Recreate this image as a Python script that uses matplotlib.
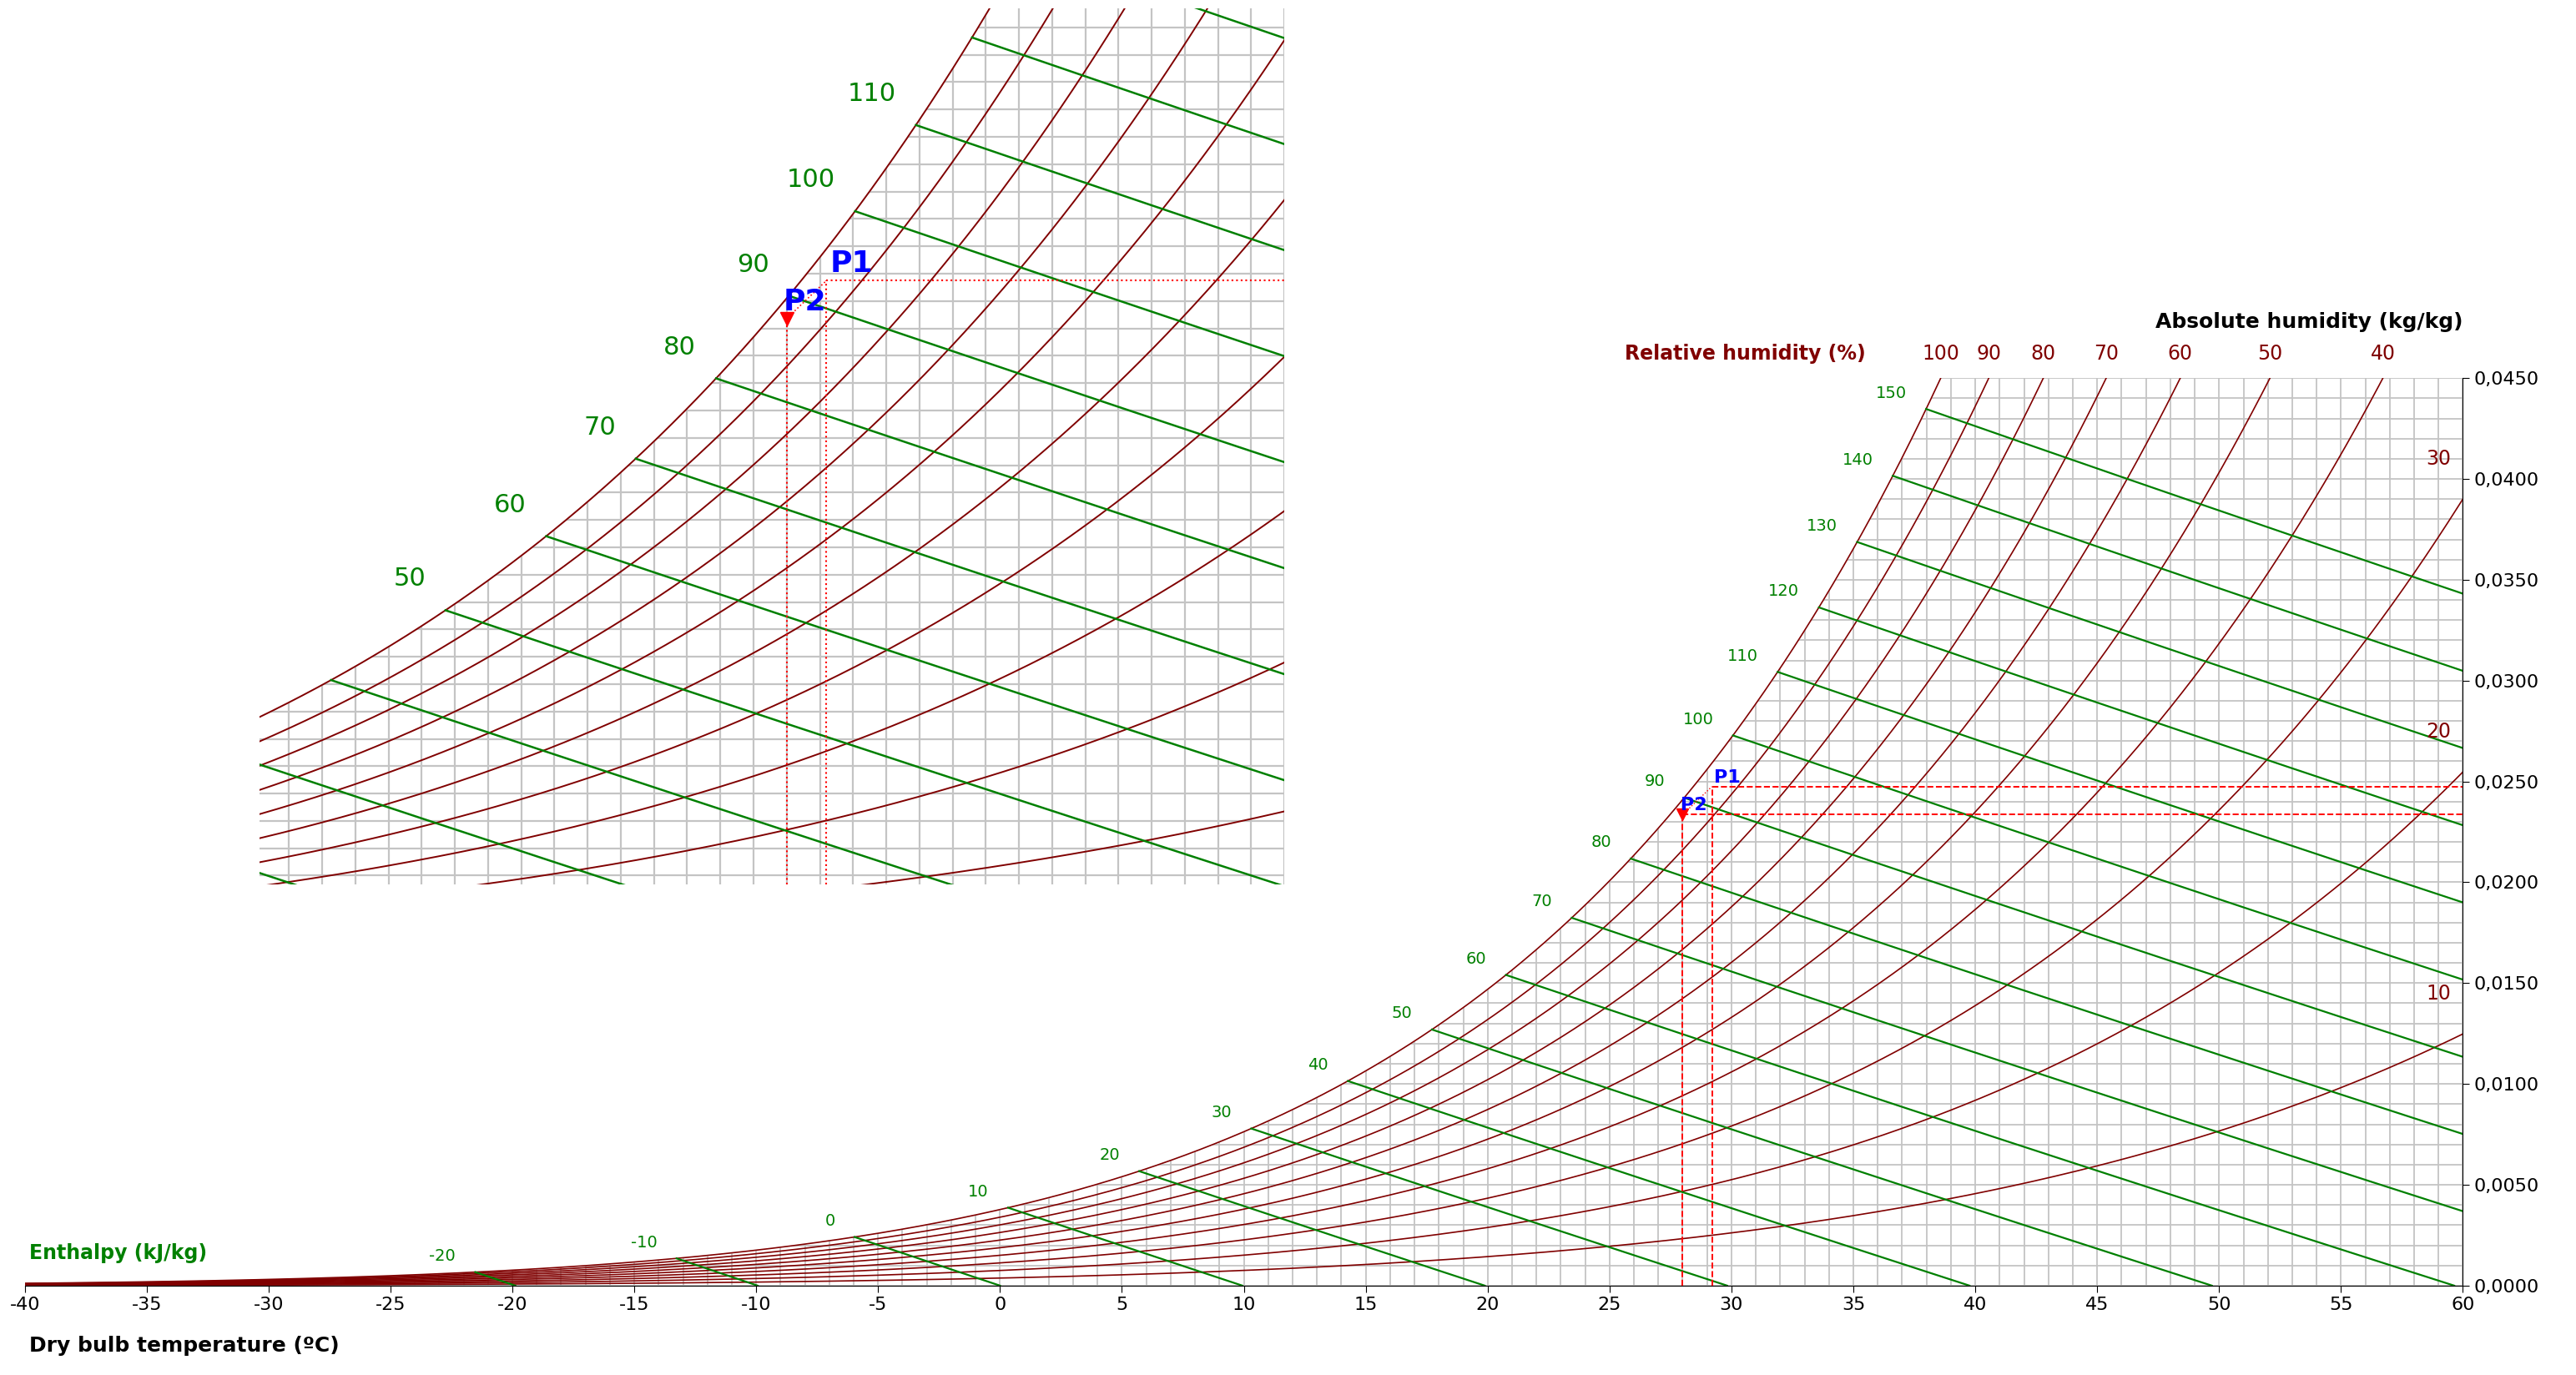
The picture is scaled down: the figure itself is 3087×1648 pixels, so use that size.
import numpy as np
import matplotlib
matplotlib.use("Agg")
import matplotlib.pyplot as plt

P_ATM = 101.325
rh_levels = [10, 20, 30, 40, 50, 60, 70, 80, 90, 100]
h_levels = list(range(-20, 151, 10))
inset_h_labels = [50, 60, 70, 80, 90, 100, 110]
p1 = (29.2, 0.02475)
p2 = (28.0, 0.02336)
x_ticks = list(range(-40, 61, 5))
y_ticks = [0.0, 0.005, 0.010, 0.015, 0.020, 0.025, 0.030, 0.035, 0.040, 0.045]

RED = "#800000"
GREEN = "#008000"

def pws(t):
    return 0.61078 * np.exp(17.27 * t / (t + 237.3))

def w_of(t, rh):
    p = rh / 100 * pws(t)
    return 0.622 * p / (P_ATM - p)

def t_sat_h(h):
    ts = np.linspace(-40, 60, 20001)
    hs = 1.006 * ts + w_of(ts, 100) * (2501 + 1.86 * ts)
    return np.interp(h, hs, ts)

def draw(ax, xlim, ylim, big):
    T = np.linspace(-40, 60, 2001)
    wsat = w_of(T, 100)
    for x in np.arange(-40, 61, 1):
        ax.axvline(x, color="#c4c4c4", lw=1.3 if not big else 1.6, zorder=0)
    for y in np.arange(0, 0.0451, 0.001):
        ax.axhline(y, color="#c4c4c4", lw=1.3 if not big else 1.6, zorder=0)
    ax.fill_between(T, wsat, 1, color="white", zorder=1)
    for rh in rh_levels:
        ax.plot(T, w_of(T, rh), color=RED, lw=1.2 if not big else 1.4, zorder=2)
    for h in h_levels:
        ts = t_sat_h(h)
        ws = w_of(ts, 100)
        te = h / 1.006
        tt = np.linspace(ts, te, 200)
        ww = (h - 1.006 * tt) / (2501 + 1.86 * tt)
        ax.plot(tt, ww, color=GREEN, lw=1.6 if not big else 1.8, zorder=2)
        if big:
            if h in inset_h_labels and xlim[0] < ts < xlim[1]:
                ax.text(ts - 0.6, ws + 0.0007, str(h), color=GREEN, fontsize=22,
                        ha="right", va="bottom", zorder=4)
        else:
            ax.text(ts - 0.8, ws + 0.0004, str(h), color=GREEN, fontsize=14,
                    ha="right", va="bottom", zorder=4)
    ax.set_xlim(*xlim)
    ax.set_ylim(*ylim)

fig = plt.figure(figsize=(30.87, 16.48), dpi=100)
ax = fig.add_axes([0.0096, 0.065, 0.9465, 0.66])
draw(ax, (-40, 60), (0, 0.045), False)
ls = "--"
ax.plot([p1[0], 60], [p1[1], p1[1]], ls, color="red", lw=1.4, zorder=3)
ax.plot([p2[0], 60], [p2[1], p2[1]], ls, color="red", lw=1.4, zorder=3)
ax.plot([p1[0], p1[0]], [0, p1[1]], ls, color="red", lw=1.4, zorder=3)
ax.plot([p2[0], p2[0]], [0, p2[1]], ls, color="red", lw=1.4, zorder=3)
ax.plot([p2[0]], [p2[1]], marker="v", color="red", ms=10, zorder=5)
ax.plot([p2[0], p1[0]], [p2[1], p1[1]], ":", color="red", lw=1, zorder=5)
ax.text(p1[0] + 0.1, p1[1] + 0.0002, "P1", color="blue", fontsize=16, fontweight="bold", zorder=6)
ax.text(p2[0] - 0.1, p2[1] + 0.0002, "P2", color="blue", fontsize=16, fontweight="bold", zorder=6)

ax.set_xticks(x_ticks)
ax.set_xticklabels([str(t) for t in x_ticks], fontsize=16)
ax.yaxis.tick_right()
ax.set_yticks(y_ticks)
ax.set_yticklabels([f"{v:.4f}".replace(".", ",") for v in y_ticks], fontsize=16)
for s in ["top", "left"]:
    ax.spines[s].set_visible(False)
ax.tick_params(length=6)
ax.text(-39.8, -0.0025, "Dry bulb temperature (ºC)", fontsize=18, fontweight="bold", va="top")
ax.text(60, 0.0478, "Absolute humidity (kg/kg)", fontsize=18, fontweight="bold", ha="right", va="center")
ax.text(-39.8, 0.0011, "Enthalpy (kJ/kg)", fontsize=17, fontweight="bold", color=GREEN, va="bottom")
ax.text(35.5, 0.0462, "Relative humidity (%)", fontsize=17, fontweight="bold", color=RED, ha="right", va="center")
for rh in [100, 90, 80, 70, 60, 50, 40]:
    ts = np.linspace(-40, 60, 20001)
    t_top = np.interp(0.045, w_of(ts, rh), ts)
    ax.text(t_top, 0.0462, str(rh), fontsize=17, color=RED, ha="center", va="center")
for rh in [30, 20, 10]:
    ax.text(59.5, w_of(60, rh) + 0.0015, str(rh), fontsize=17, color=RED, ha="right", va="bottom")

ax2 = fig.add_axes([0.1006, 0.357, 0.398, 0.637])
xl = (12.1, 43.0)
yl = (0.00269, 0.0347)
draw(ax2, xl, yl, True)
ls2 = ":"
ax2.plot([p1[0], xl[1]], [p1[1], p1[1]], ls2, color="red", lw=1.5, zorder=3)
ax2.plot([p1[0], p1[0]], [yl[0], p1[1]], ls2, color="red", lw=1.5, zorder=3)
ax2.plot([p2[0], p2[0]], [yl[0], p2[1]], ls2, color="red", lw=1.5, zorder=3)
ax2.plot([p2[0]], [p2[1]], marker="v", color="red", ms=12, zorder=5)
ax2.plot([p2[0], p1[0]], [p2[1], p1[1]], ":", color="red", lw=1.2, zorder=5)
ax2.text(p1[0] + 0.1, p1[1] + 0.0003, "P1", color="blue", fontsize=26, fontweight="bold", zorder=6)
ax2.text(p2[0] - 0.1, p2[1] + 0.0003, "P2", color="blue", fontsize=26, fontweight="bold", zorder=6)
ax2.set_xticks([])
ax2.set_yticks([])
for s in ax2.spines.values():
    s.set_visible(False)

fig.savefig("out.png", dpi=100)
